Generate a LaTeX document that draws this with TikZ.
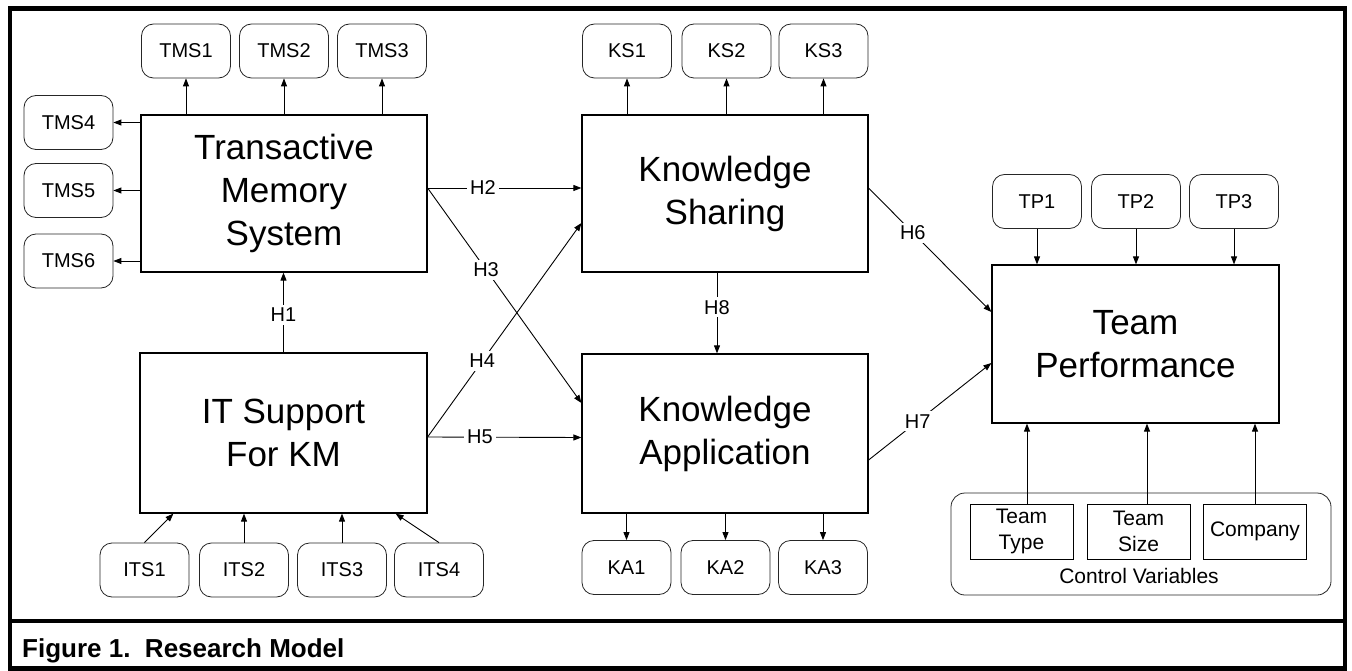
\documentclass[tikz,border=0pt]{standalone}
\usepackage{fontspec}
\setmainfont{Liberation Sans}
\usetikzlibrary{arrows.meta,calc}
\tikzset{
  bigbox/.style={draw,line width=1.2pt,align=center,inner sep=0pt,font=\fontsize{35}{43}\selectfont},
  item/.style={draw=black!85,line width=0.8pt,rounded corners=12pt,minimum width=89pt,minimum height=54pt,inner sep=0pt,font=\fontsize{20}{24}\selectfont},
  cvbox/.style={draw,line width=1pt,minimum width=103pt,minimum height=55pt,inner sep=0pt,align=center,font=\fontsize{21}{26}\selectfont},
  arr/.style={-{Triangle[length=8pt,width=6pt]},line width=0.9pt},
  hl/.style={fill=white,inner sep=3pt,font=\fontsize{20}{24}\selectfont},
  frame/.style={line width=4.5pt}
}
\begin{document}
\begin{tikzpicture}[x=1pt,y=-1pt]
\useasboundingbox (0,0) rectangle (1352,671);
% frame
\draw[frame] (10,8.5) rectangle (1345,668.5);
\draw[frame] (10,621) -- (1345,621);
\node[anchor=base west,inner sep=0pt,font=\bfseries\fontsize{26}{30}\selectfont] (cap) at (22,657) {Figure 1.\ \ Research Model};
% main boxes
\node[bigbox,minimum width=286pt,minimum height=157pt] (tms) at (284,193.5) {Transactive\\Memory\\System};
\node[bigbox,minimum width=286pt,minimum height=157pt] (ks) at (725,193.5) {Knowledge\\Sharing};
\node[bigbox,minimum width=287pt,minimum height=160pt] (it) at (283.5,433) {IT Support\\For KM};
\node[bigbox,minimum width=286pt,minimum height=159pt] (ka) at (725,433.5) {Knowledge\\Application};
\node[bigbox,minimum width=287pt,minimum height=158pt] (tp) at (1135.5,344) {Team\\Performance};
% indicators
\node[item] (tms1) at (186,51) {TMS1};
\node[item] (tms2) at (284,51) {TMS2};
\node[item] (tms3) at (382,51) {TMS3};
\node[item] (tms4) at (68.5,122.5) {TMS4};
\node[item] (tms5) at (68.5,190.5) {TMS5};
\node[item] (tms6) at (68.5,261) {TMS6};
\node[item] (ks1) at (627,51) {KS1};
\node[item] (ks2) at (726.5,51) {KS2};
\node[item] (ks3) at (823.5,51) {KS3};
\node[item] (tp1) at (1037,201.5) {TP1};
\node[item] (tp2) at (1136,201.5) {TP2};
\node[item] (tp3) at (1234,201.5) {TP3};
\node[item] (its1) at (144.5,570) {ITS1};
\node[item] (its2) at (244,570) {ITS2};
\node[item] (its3) at (342,570) {ITS3};
\node[item] (its4) at (439,570) {ITS4};
\node[item] (ka1) at (626.5,567.5) {KA1};
\node[item] (ka2) at (725.5,567.5) {KA2};
\node[item] (ka3) at (823,567.5) {KA3};
% control variables
\node[draw=black!85,line width=0.8pt,rounded corners=14pt,minimum width=380pt,minimum height=102pt] (cv) at (1141,544) {};
\node[cvbox] (tt) at (1021.5,531.5) {Team\\Type};
\node[cvbox] (ts) at (1138.5,531.5) {Team\\Size};
\node[cvbox] (co) at (1255,531.5) {Company};
\node[anchor=base,inner sep=0pt,font=\fontsize{21}{26}\selectfont] (cvl) at (1139,583) {Control Variables};
% indicator arrows
\foreach \n in {tms1,tms2,tms3} \draw[arr] (tms.north -| \n) -- (\n.south);
\foreach \n in {tms4,tms5,tms6} \draw[arr] (tms.west |- \n) -- (\n.east);
\foreach \n in {ks1,ks2,ks3} \draw[arr] (ks.north -| \n) -- (\n.south);
\foreach \n in {ka1,ka2,ka3} \draw[arr] (ka.south -| \n) -- (\n.north);
\foreach \n in {tp1,tp2,tp3} \draw[arr] (\n.south) -- (tp.north -| \n);
\draw[arr] (its1.north) -- ([xshift=34pt]it.south west);
\draw[arr] (its2.north) -- (its2.north |- it.south);
\draw[arr] (its3.north) -- (its3.north |- it.south);
\draw[arr] (its4.north) -- ([xshift=-32pt]it.south east);
\draw[arr] ([xshift=5.5pt]tt.north) -- ([xshift=5.5pt]tt.north |- tp.south);
\draw[arr] ([xshift=8.5pt]ts.north) -- ([xshift=8.5pt]ts.north |- tp.south);
\draw[arr] (co.north) -- (co.north |- tp.south);
% hypotheses
\draw[arr] (it.north) -- node[hl,pos=0.47]{H1} (it.north |- tms.south);
\draw[arr] ([yshift=5.5pt]tms.east) -- node[hl,pos=0.36]{H2} ([yshift=5.5pt]ks.west);
\draw[arr] ([yshift=5.5pt]tms.east) -- node[hl,pos=0.38]{H3} ([yshift=30.5pt]ka.west);
\draw[arr] ([yshift=-4pt]it.east) -- node[hl,pos=0.355]{H4} ([yshift=-29.5pt]ks.west);
\draw[arr] ([yshift=-4pt]it.east) -- node[hl,pos=0.34]{H5} ([yshift=-4pt]ka.west);
\draw[arr] ([yshift=5.5pt]ks.east) -- node[hl,pos=0.36]{H6} ([yshift=32pt]tp.west);
\draw[arr] ([yshift=-26.5pt]ka.east) -- node[hl,pos=0.4]{H7} ([yshift=-19pt]tp.west);
\draw[arr] ([xshift=-8pt]ks.south) -- node[hl,pos=0.43]{H8} ([xshift=-8pt]ka.north);
\end{tikzpicture}
\end{document}
